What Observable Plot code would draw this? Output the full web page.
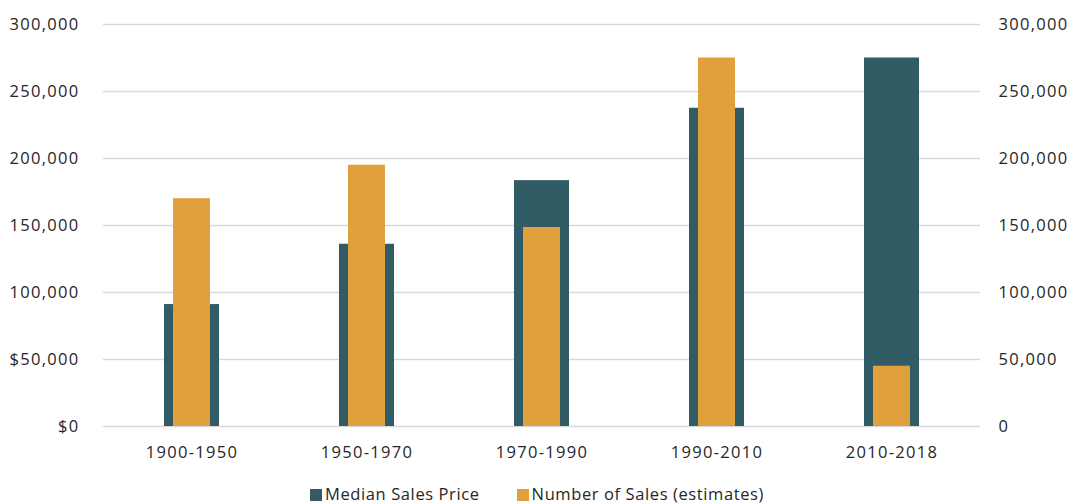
<!DOCTYPE html>
<html>
<head>
<meta charset="utf-8">
<script src="https://cdn.jsdelivr.net/npm/d3@7"></script>
<script src="https://cdn.jsdelivr.net/npm/@observablehq/plot@0.6"></script>
<style>
  body { margin: 0; background: #fff; font-family: "Open Sans", sans-serif; }
  #chart svg { display: block; }
  #chart svg text { letter-spacing: 1.3px; }
  .legend { display: flex; justify-content: center; gap: 37px; font-size: 16.5px; letter-spacing: 0.6px; color: #262626; height: 46px; align-items: center; margin-left: -10px; }
  .legend span.sw { display: inline-block; width: 12px; height: 12px; margin-right: 3px; vertical-align: -1px; }
</style>
</head>
<body>
<div id="chart"></div>
<div class="legend">
  <div><span class="sw" style="background:#315b65"></span>Median Sales Price</div>
  <div><span class="sw" style="background:#e0a03c"></span>Number of Sales (estimates)</div>
</div>
<script>
const periods = ["1900-1950", "1950-1970", "1970-1990", "1990-2010", "2010-2018"];
const medianPrice = [91000, 136000, 183500, 237500, 275000];
const numberOfSales = [170000, 195000, 148500, 275000, 45000];
const tickValues = [0, 50000, 100000, 150000, 200000, 250000, 300000];
const leftTickLabels = ["$0", "$50,000", "100,000", "150,000", "200,000", "250,000", "300,000"];
const rightTickLabels = ["0", "50,000", "100,000", "150,000", "200,000", "250,000", "300,000"];

const priceData = periods.map((p, i) => ({period: p, value: medianPrice[i]}));
const salesData = periods.map((p, i) => ({period: p, value: numberOfSales[i]}));

const chart = Plot.plot({
  width: 1084,
  height: 470,
  marginLeft: 103,
  marginRight: 104,
  marginTop: 24,
  marginBottom: 44,
  style: {fontFamily: "'Open Sans', sans-serif", fontSize: "16.5px", color: "#262626", background: "#fff"},
  x: {domain: periods, padding: 0, label: null},
  y: {domain: [0, 300000], label: null},
  marks: [
    Plot.ruleY(tickValues, {stroke: "#d9d9d9", strokeWidth: 1.5}),
    Plot.barY(priceData, {x: "period", y: "value", fill: "#315b65", insetLeft: 60, insetRight: 60}),
    Plot.barY(salesData, {x: "period", y: "value", fill: "#e0a03c", insetLeft: 69, insetRight: 69}),
    Plot.axisX({tickSize: 0, tickPadding: 20, fontSize: 16.5}),
    Plot.axisY({anchor: "left", ticks: tickValues, tickSize: 0, tickPadding: 24,
      tickFormat: d => leftTickLabels[tickValues.indexOf(d)], fontSize: 16.5}),
    Plot.axisY({anchor: "right", ticks: tickValues, tickSize: 0, tickPadding: 18,
      tickFormat: d => rightTickLabels[tickValues.indexOf(d)], fontSize: 16.5})
  ]
});
document.getElementById("chart").appendChild(chart);
</script>
</body>
</html>
